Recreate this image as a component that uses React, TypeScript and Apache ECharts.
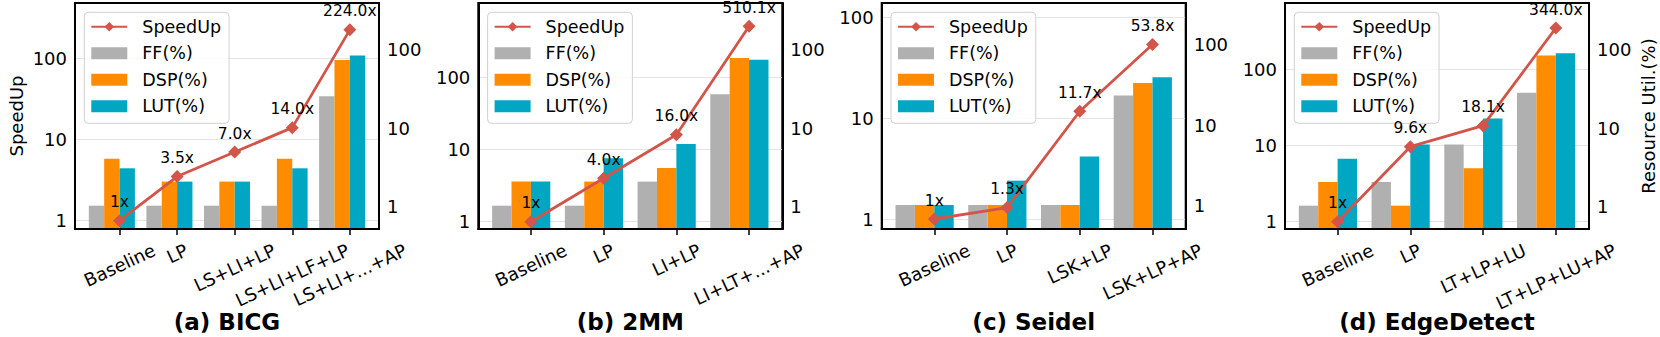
import React, { useEffect, useRef } from 'react';
import * as echarts from 'echarts';

// ---------- data ----------
const panelTitles = ['(a) BICG', '(b) 2MM', '(c) Seidel', '(d) EdgeDetect'];

const categoriesA = ['Baseline', 'LP', 'LS+LI+LP', 'LS+LI+LF+LP', 'LS+LI+...+AP'];
const speedupA = [1, 3.5, 7.0, 14.0, 224.0];
const ffA = [1.03, 1.03, 1.03, 1.03, 25.7];
const dspA = [4.1, 2.09, 2.09, 4.1, 74.7];
const lutA = [3.09, 2.09, 2.09, 3.09, 84.8];

const categoriesB = ['Baseline', 'LP', 'LI+LP', 'LI+LT+...+AP'];
const speedupB = [1, 4.0, 16.0, 510.1];
const ffB = [1.03, 1.03, 2.09, 27.2];
const dspB = [2.09, 2.09, 3.12, 79.0];
const lutB = [2.09, 4.15, 6.3, 75.2];

const categoriesC = ['Baseline', 'LP', 'LSK+LP', 'LSK+LP+AP'];
const speedupC = [1, 1.3, 11.7, 53.8];
const ffC = [1.02, 1.02, 1.02, 23.5];
const dspC = [1.02, 1.02, 1.02, 33.7];
const lutC = [1.02, 2.05, 4.1, 39.6];

const categoriesD = ['Baseline', 'LP', 'LT+LP+LU', 'LT+LP+LU+AP'];
const speedupD = [1, 9.6, 18.1, 344.0];
const ffD = [1.03, 2.07, 6.2, 28.5];
const dspD = [2.07, 1.03, 3.09, 84.8];
const lutD = [4.1, 6.2, 13.4, 90.8];

const yTickLabels = [1, 10, 100];
const legendNames = ['SpeedUp', 'FF(%)', 'DSP(%)', 'LUT(%)'];

// ---------- layout / style ----------
const FONT = "'DejaVu Sans', sans-serif";
const COLORS = { line: '#d3554a', ff: '#b0b0b0', dsp: '#ff8c00', lut: '#00a6c2' };
const gridLefts = [75, 478.3, 881.7, 1285];
const GRID_W = 304;
const GRID_TOP = 3;
const GRID_H = 226;
const speedRanges = [[0.79, 480], [0.793, 1069], [0.796, 138.6], [0.802, 733]];
const utilRanges = [[0.519, 398], [0.519, 398], [0.513, 333], [0.519, 398]];
const BAR_FRAC = 0.8 / 3;
const ROT = 25;

const panels = [
  { cats: categoriesA, speed: speedupA, ff: ffA, dsp: dspA, lut: lutA },
  { cats: categoriesB, speed: speedupB, ff: ffB, dsp: dspB, lut: lutB },
  { cats: categoriesC, speed: speedupC, ff: ffC, dsp: dspC, lut: lutC },
  { cats: categoriesD, speed: speedupD, ff: ffD, dsp: dspD, lut: lutD },
];

function measure(text: string, px: number): number {
  const c = document.createElement('canvas').getContext('2d');
  if (!c) return text.length * px * 0.6;
  c.font = `${px}px 'DejaVu Sans'`;
  return c.measureText(text).width;
}

function buildOption() {
  const grid: any[] = [];
  const xAxis: any[] = [];
  const yAxis: any[] = [];
  const series: any[] = [];
  const legend: any[] = [];
  const graphic: any[] = [];
  const th = (ROT * Math.PI) / 180;

  panels.forEach((p, i) => {
    const n = p.cats.length;
    const w = BAR_FRAC;
    const span = n - 1 + 3 * w;
    const xmin = -2 * w - 0.05 * span;
    const xmax = n - 1 + w + 0.05 * span;
    const barW = (w * GRID_W) / (xmax - xmin);
    const idx = p.cats.map((_, k) => k);

    grid.push({
      left: gridLefts[i], top: GRID_TOP, width: GRID_W, height: GRID_H,
      show: true, borderColor: '#000', borderWidth: 2, backgroundColor: 'transparent',
      containLabel: false, outerBoundsMode: 'none',
    });

    const rich: any = {};
    p.cats.forEach((c, k) => {
      const L = measure(c, 18);
      rich['r' + k] = {
        fontSize: 18, fontFamily: FONT, color: '#000',
        padding: [L * Math.sin(th) * Math.cos(th), L * Math.sin(th) * Math.sin(th), 0, 0],
      };
    });

    xAxis.push({
      type: 'value', gridIndex: i, min: xmin, max: xmax, z: 5,
      axisLine: { show: true, onZero: false, lineStyle: { color: '#000', width: 2 } },
      axisTick: { show: true, length: 6, customValues: idx, lineStyle: { color: '#000', width: 1.5 } },
      axisLabel: {
        customValues: idx, rotate: ROT, align: 'center', verticalAlign: 'middle', margin: 20,
        fontSize: 18, fontFamily: FONT, color: '#000', rich,
        formatter: (v: number) => {
          const k = Math.round(v);
          return p.cats[k] != null ? `{r${k}|${p.cats[k]}}` : '';
        },
      },
      splitLine: { show: false },
    });

    const yLabel = {
      customValues: yTickLabels,
      fontSize: 18, fontFamily: FONT, color: '#000', margin: 8,
      formatter: (v: number) => String(Math.round(v)),
    };
    yAxis.push({
      type: 'log', logBase: 10, gridIndex: i, position: 'left',
      min: speedRanges[i][0], max: speedRanges[i][1],
      axisLine: { show: true, onZero: false, lineStyle: { color: '#000', width: 2 } },
      axisTick: { show: false, customValues: yTickLabels },
      axisLabel: yLabel,
      splitLine: { show: true, lineStyle: { color: '#e4e4e4', width: 1 } },
      name: i === 0 ? 'SpeedUp' : '', nameLocation: 'middle', nameGap: 50, nameRotate: 90,
      nameTextStyle: { fontSize: 18, fontFamily: FONT, color: '#000' },
    });
    yAxis.push({
      type: 'log', logBase: 10, gridIndex: i, position: 'right',
      min: utilRanges[i][0], max: utilRanges[i][1], startValue: utilRanges[i][0],
      axisLine: { show: true, onZero: false, lineStyle: { color: '#000', width: 2 } },
      axisTick: { show: false, customValues: yTickLabels },
      axisLabel: yLabel,
      splitLine: { show: false },
      name: i === 3 ? 'Resource Util.(%)' : '', nameLocation: 'middle', nameGap: 50, nameRotate: 90,
      nameTextStyle: { fontSize: 18, fontFamily: FONT, color: '#000' },
    });

    const barCommon = {
      type: 'bar', xAxisIndex: i, yAxisIndex: 2 * i + 1, barWidth: barW, barGap: '0%',
    };
    series.push({ ...barCommon, name: 'FF(%)', data: p.ff.map((v, k) => [k, v]), itemStyle: { color: COLORS.ff } });
    series.push({ ...barCommon, name: 'DSP(%)', data: p.dsp.map((v, k) => [k, v]), itemStyle: { color: COLORS.dsp } });
    series.push({ ...barCommon, name: 'LUT(%)', data: p.lut.map((v, k) => [k, v]), itemStyle: { color: COLORS.lut } });
    series.push({ ...barCommon, name: 'spacer', data: [], itemStyle: { color: 'transparent' } });
    series.push({
      type: 'line', name: 'SpeedUp', xAxisIndex: i, yAxisIndex: 2 * i, z: 4,
      data: p.speed.map((v, k) => [k, v]),
      symbol: 'diamond', symbolSize: 13,
      lineStyle: { color: COLORS.line, width: 2.8 },
      itemStyle: { color: COLORS.line },
      label: {
        show: true, position: 'top', distance: 4, fontSize: 15.5, fontFamily: FONT, color: '#000',
        formatter: (prm: any) => {
          const v = prm.value[1];
          return prm.dataIndex === 0 ? `${v}x` : `${v.toFixed(1)}x`;
        },
      },
    });

    legend.push({
      orient: 'vertical', left: gridLefts[i] + 9.3, top: 12.3,
      itemWidth: 36, itemHeight: 12, itemGap: 8.5, padding: [5.5, 8, 8, 6],
      backgroundColor: 'rgba(255,255,255,0.8)', borderColor: '#d0d0d0', borderWidth: 1, borderRadius: 4,
      selectedMode: false,
      formatter: (name: string) => `{t|${name}}`,
      textStyle: {
        fontSize: 17.5, fontFamily: FONT, color: '#000',
        rich: { t: { fontSize: 17.5, fontFamily: FONT, color: '#000', padding: [0, 0, 0, 10] } },
      },
      data: [
        { name: legendNames[0] },
        { name: legendNames[1], icon: 'rect' },
        { name: legendNames[2], icon: 'rect' },
        { name: legendNames[3], icon: 'rect' },
      ],
    });

    graphic.push({
      type: 'text', x: gridLefts[i] + GRID_W / 2, y: 321.7,
      style: {
        text: panelTitles[i], align: 'center', verticalAlign: 'middle',
        font: `bold 23px ${FONT}`, fill: '#000',
      },
    });
  });

  return { animation: false, grid, xAxis, yAxis, series, legend, graphic };
}

export default function App() {
  const ref = useRef<HTMLDivElement>(null);
  useEffect(() => {
    if (!ref.current) return;
    const chart = echarts.init(ref.current, null, { renderer: 'svg' });
    chart.setOption(buildOption() as any);
    return () => chart.dispose();
  }, []);
  return (
    <div
      ref={ref}
      style={{ position: 'fixed', left: 0, top: 0, width: 1660, height: 337, background: '#fff' }}
    />
  );
}
